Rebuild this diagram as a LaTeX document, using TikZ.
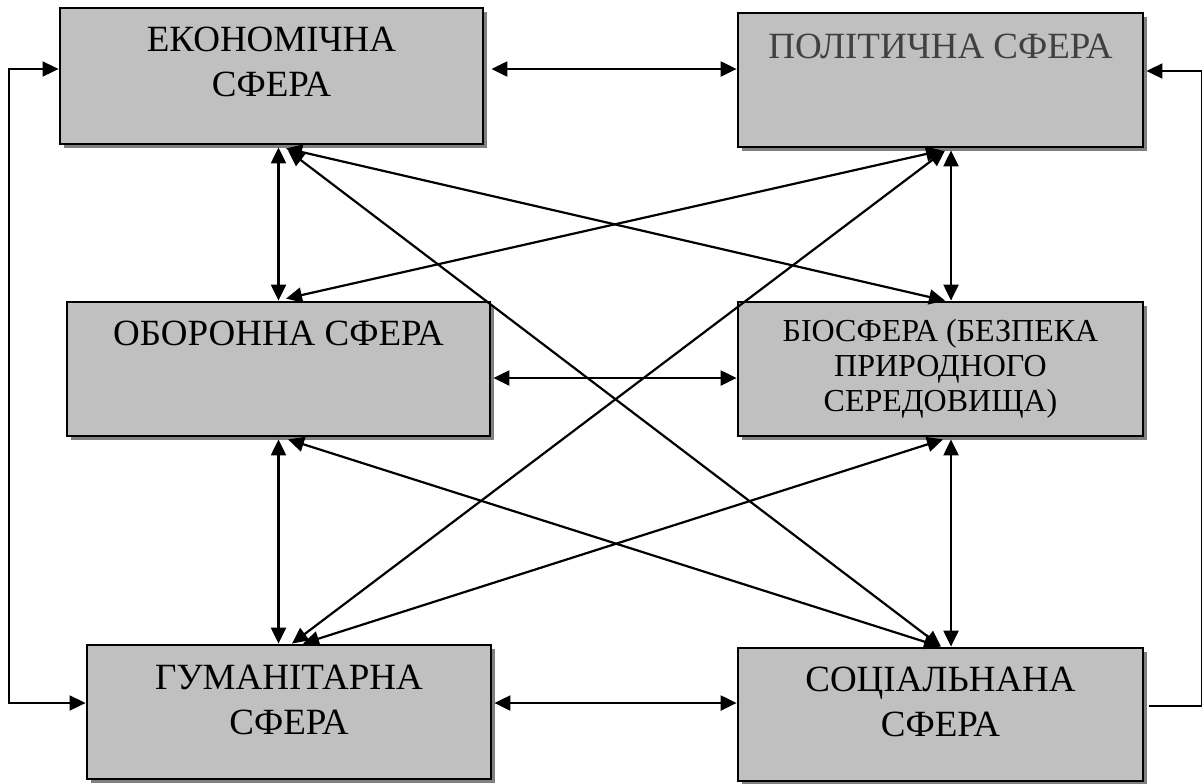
\documentclass[tikz,border=0pt]{standalone}
\usepackage{fontspec}
\setmainfont{Liberation Serif}
\usetikzlibrary{arrows.meta, positioning, shadows}

\definecolor{boxgray}{HTML}{C0C0C0}
\definecolor{shadowgray}{HTML}{808080}
\definecolor{poltext}{HTML}{404040}

\begin{document}
\begin{tikzpicture}[
    x=0.5pt, y=-0.5pt,
    >={Triangle[length=8pt, width=7.5pt]},
    block/.style = {draw, rectangle, line width=1.4pt, fill=boxgray, minimum width=211.5pt, minimum height=67pt,
        drop shadow={shadow xshift=2.2pt, shadow yshift=-2.2pt, fill=shadowgray, opacity=1}},
    narrow/.style = {minimum width=202.5pt},
    txt/.style = {font=\fontsize{18.5}{22.5}\selectfont, align=center, inner sep=0pt},
    small/.style = {font=\fontsize{16}{17.5}\selectfont},
    arrow/.style = {<->, line width=1.1pt},
    feedback/.style = {line width=0.9pt}
]
\useasboundingbox (0,0) rectangle (1203,783);

% =========================================================
% BLOCKS: three rows, two columns
% =========================================================
\node[block, minimum height=68pt] (econ) at (271.5,76) {};
\node[block, narrow] (pol) at (940.5,80) {};
\node[block] (def) at (278.5,369) {};
\node[block, narrow] (bio) at (940.5,369) {};
\node[block, minimum width=202pt] (hum) at (289,712) {};
\node[block, narrow, minimum height=66.5pt] (soc) at (940.5,714.5) {};

% Texts sit near the top edge of each block
\node[txt, below=10pt of econ.north] (econ_t) {ЕКОНОМІЧНА\\СФЕРА};
\node[txt, text=poltext, below=11pt of pol.north] (pol_t) {ПОЛІТИЧНА СФЕРА};
\node[txt, below=10pt of def.north] (def_t) {ОБОРОННА СФЕРА};
\node[txt, small, below=9pt of bio.north] (bio_t) {БІОСФЕРА (БЕЗПЕКА\\ПРИРОДНОГО\\СЕРЕДОВИЩА)};
\node[txt, below=10.5pt of hum.north] (hum_t) {ГУМАНІТАРНА\\СФЕРА};
\node[txt, below=10pt of soc.north] (soc_t) {СОЦІАЛЬНАНА\\СФЕРА};

% =========================================================
% WIRING: HORIZONTAL LINKS
% =========================================================
\draw[arrow] ([xshift=3.5pt, yshift=3.5pt]econ.east) -- ([yshift=5.5pt]pol.west);
\draw[arrow] ([xshift=1pt, yshift=-4.5pt]def.east) -- ([yshift=-4.5pt]bio.west);
\draw[arrow] ([xshift=1pt, yshift=4.5pt]hum.east) -- ([yshift=5.75pt]soc.west);

% =========================================================
% WIRING: VERTICAL LINKS
% =========================================================
\draw[arrow] ([yshift=-1pt]econ.south -| def.north) -- (def.north);
\draw[arrow] ([yshift=-1pt]def.south) -- (def.south |- hum.north);
\draw[arrow] ([xshift=5.25pt, yshift=-1pt]pol.south) -- ([xshift=5.25pt]bio.north);
\draw[arrow] ([xshift=5.25pt, yshift=-1pt]bio.south) -- ([xshift=5.25pt]soc.north);

% =========================================================
% WIRING: DIAGONAL LINKS
% =========================================================
\draw[arrow] ([xshift=7.25pt, yshift=-1.5pt]econ.south) -- ([xshift=2.25pt]bio.north);
\draw[arrow] ([xshift=8.25pt, yshift=-2.5pt]econ.south) -- ([xshift=0.25pt]soc.north);
\draw[arrow] ([xshift=0.75pt, yshift=-1pt]pol.south) -- ([xshift=3.75pt, yshift=1pt]def.north);
\draw[arrow] ([xshift=2.25pt, yshift=-1pt]pol.south) -- ([xshift=1.5pt]hum.north);
\draw[arrow] ([xshift=4.75pt, yshift=-1pt]def.south) -- ([xshift=-0.25pt]soc.north);
\draw[arrow] ([xshift=1.25pt, yshift=-1pt]bio.south) -- ([xshift=7pt]hum.north);

% =========================================================
% WIRING: OUTER LOOPS (left and right)
% =========================================================
\draw[feedback, <->] ([yshift=3.5pt]econ.west) -- ++(-50,0) |- ([yshift=4.5pt]hum.west);
\draw[feedback, ->] ([xshift=2.5pt, yshift=4.25pt]soc.east) -- ++(52,0) |- ([xshift=1pt, yshift=4.5pt]pol.east);

\end{tikzpicture}
\end{document}
